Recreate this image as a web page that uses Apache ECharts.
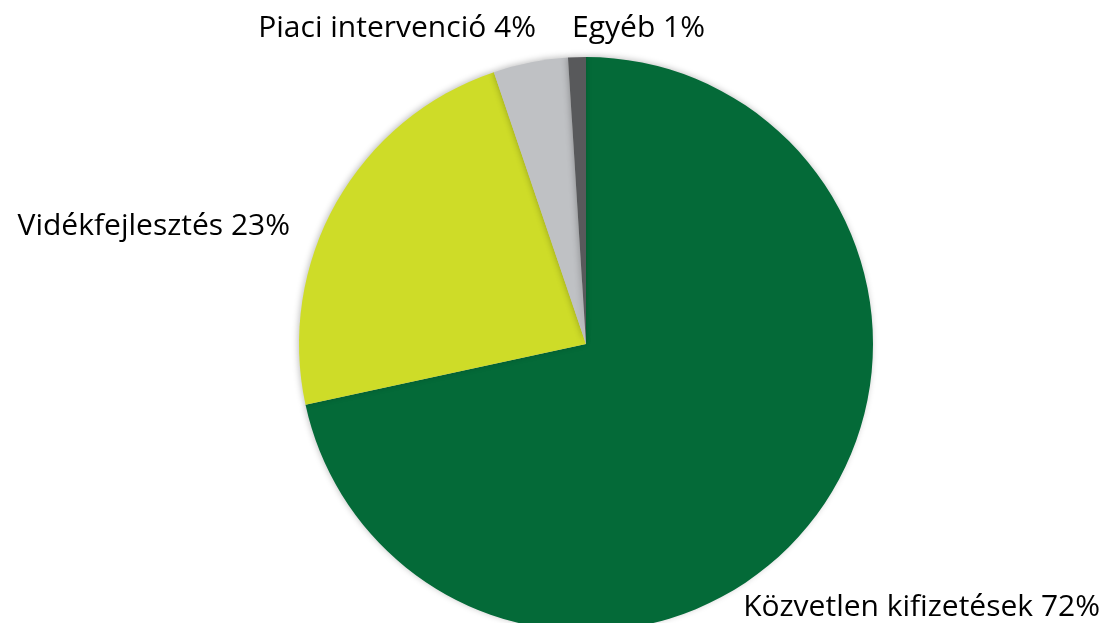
<!DOCTYPE html>
<html><head><meta charset="utf-8">
<script src="https://cdn.jsdelivr.net/npm/echarts@6/dist/echarts.min.js"></script>
<style>html,body{margin:0;padding:0;background:#fff}#c{width:1105px;height:623px}</style>
</head><body><div id="c"></div>
<script>
const categories = ['Közvetlen kifizetések', 'Vidékfejlesztés', 'Piaci intervenció', 'Egyéb'];
const values = [71.6, 23.2, 4.2, 1.0];
const percentLabels = ['72%', '23%', '4%', '1%'];
const colors = ['#046A38', '#CEDC28', '#BFC1C4', '#58595B'];

const labelPos = [
  {x: 1100, y: 607, align: 'right'},
  {x: 290, y: 226, align: 'right'},
  {x: 536, y: 28, align: 'right'},
  {x: 705, y: 28, align: 'right'}
];

const chart = echarts.init(document.getElementById('c'), null, {renderer: 'canvas'});
chart.setOption({
  animation: false,
  series: [{
    type: 'pie',
    center: [586, 344],
    radius: 287,
    startAngle: 90,
    clockwise: true,
    data: categories.map((n, i) => ({name: n, value: values[i], itemStyle: {color: colors[i]}})),
    itemStyle: {borderWidth: 0, shadowBlur: 6, shadowColor: 'rgba(0,0,0,0.25)', shadowOffsetX: -1, shadowOffsetY: -1},
    emphasis: {disabled: true},
    label: {
      show: true,
      position: 'outside',
      formatter: p => categories[p.dataIndex] + ' ' + percentLabels[p.dataIndex],
      fontFamily: 'Open Sans',
      fontSize: 30,
      color: '#000',
      overflow: 'none',
      width: 600
    },
    labelLine: {show: false},
    labelLayout: p => ({x: labelPos[p.dataIndex].x, y: labelPos[p.dataIndex].y, align: labelPos[p.dataIndex].align, verticalAlign: 'middle'})
  }]
});
</script></body></html>
